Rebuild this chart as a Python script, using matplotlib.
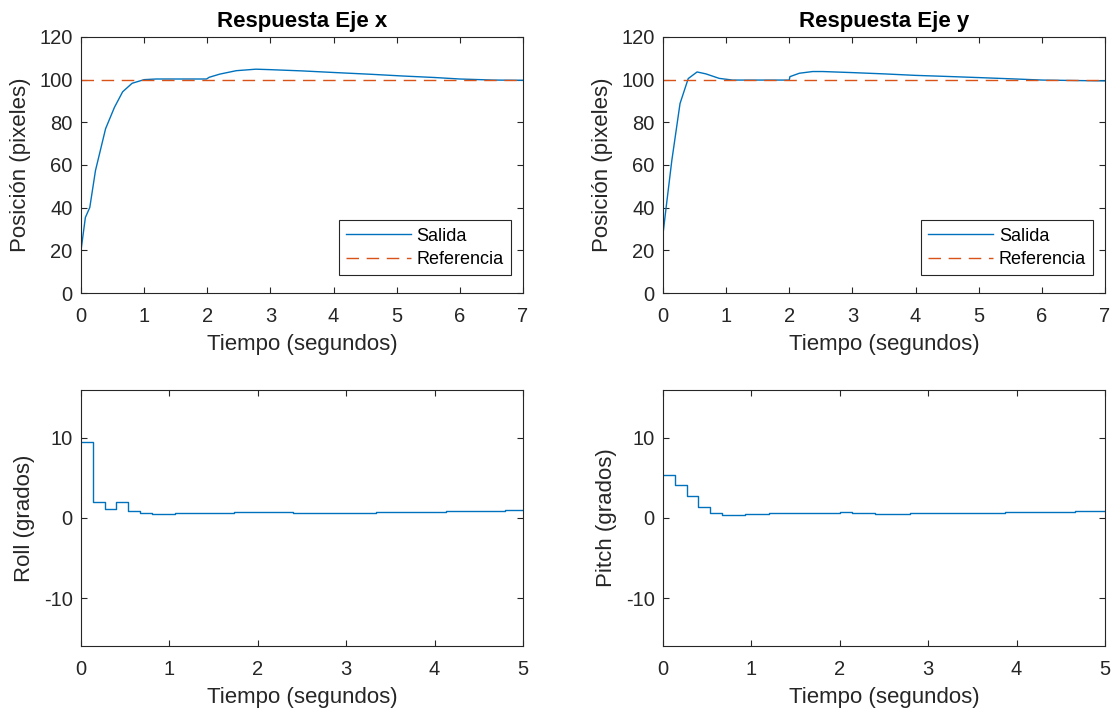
import numpy as np
import matplotlib.pyplot as plt

plt.rcParams['font.family'] = ['Liberation Sans', 'DejaVu Sans']
plt.rcParams['axes.unicode_minus'] = False

# posicion eje x (salida)
tx = [0, 0.07, 0.14, 0.23, 0.39, 0.53, 0.66, 0.81, 1.0, 1.19, 1.99, 2.03, 2.2, 2.46,
      2.77, 2.98, 3.5, 4.04, 4.6, 5.1, 5.6, 6.0, 6.53, 7.0]
px = [19.7, 35.4, 40.1, 57.4, 77.0, 87.0, 94.3, 98.3, 100.0, 100.3, 100.3, 101.1, 102.6, 104.2,
      104.9, 104.7, 104.1, 103.3, 102.5, 101.7, 101.0, 100.3, 99.8, 99.7]

# posicion eje y (salida)
ty = [0, 0.05, 0.14, 0.27, 0.40, 0.54, 0.68, 0.89, 1.10, 2.0, 2.01, 2.16, 2.37, 2.53,
      3.0, 3.5, 4.0, 4.5, 5.06, 5.5, 6.01, 6.5, 7.0]
py = [27.5, 40.1, 62.1, 88.8, 100.5, 103.6, 102.7, 100.6, 99.8, 99.8, 101.4, 103.0, 103.8, 103.8,
      103.3, 102.7, 102.0, 101.5, 100.9, 100.4, 99.8, 99.6, 99.4]

referencia = 100

# angulos de control, periodo de muestreo ~0.133 s
dt = 0.1333
roll = [9.55, 1.97, 1.09, 2.05, 0.92, 0.63, 0.55, 0.56, 0.58, 0.60, 0.62, 0.65, 0.67,
        0.70, 0.72, 0.75, 0.76, 0.72, 0.68, 0.66, 0.65, 0.65, 0.66, 0.67, 0.68, 0.70,
        0.72, 0.74, 0.76, 0.78, 0.80, 0.82, 0.85, 0.87, 0.90, 0.92, 0.95, 0.98]
pitch = [5.36, 4.14, 2.72, 1.34, 0.59, 0.38, 0.38, 0.45, 0.52, 0.57, 0.60, 0.62, 0.64,
         0.66, 0.68, 0.70, 0.68, 0.62, 0.56, 0.54, 0.55, 0.57, 0.58, 0.60, 0.62, 0.63,
         0.65, 0.67, 0.68, 0.70, 0.72, 0.74, 0.76, 0.78, 0.80, 0.82, 0.84, 0.86]

blue = '#0072BD'
orange = '#D95319'
gray = '#262626'


def style(ax):
    ax.tick_params(direction='in', top=True, right=True, colors=gray, labelsize=14.5,
                   length=4, width=0.8, labelcolor=gray)
    ax.tick_params(axis='x', pad=10)
    ax.tick_params(axis='y', pad=6)
    for s in ax.spines.values():
        s.set_color(gray)
        s.set_linewidth(0.8)


fig = plt.figure(figsize=(11.12, 7.11), dpi=100)
axes = [fig.add_axes([0.0728, 0.5879, 0.3975, 0.3601]),
        fig.add_axes([0.5962, 0.5879, 0.3975, 0.3601]),
        fig.add_axes([0.0728, 0.0914, 0.3975, 0.3601]),
        fig.add_axes([0.5962, 0.0914, 0.3975, 0.3601])]

for ax, t, p, title in [(axes[0], tx, px, 'Respuesta Eje x'), (axes[1], ty, py, 'Respuesta Eje y')]:
    ax.plot(t, p, color=blue, lw=1, label='Salida')
    ax.plot([0, 7], [referencia, referencia], color=orange, lw=1, dashes=(9, 5.5), label='Referencia')
    ax.set_xlim(0, 7)
    ax.set_ylim(0, 120)
    ax.set_yticks(range(0, 121, 20))
    ax.set_title(title, fontsize=16, fontweight='bold', pad=7)
    ax.set_xlabel('Tiempo (segundos)', fontsize=16, color=gray, labelpad=6)
    ax.set_ylabel('Posición (pixeles)', fontsize=16, color=gray, labelpad=6)
    leg = ax.legend(loc='lower right', bbox_to_anchor=(0.973, 0.07), borderaxespad=0,
                    fontsize=13, fancybox=False, framealpha=1, edgecolor=gray,
                    handlelength=3.6, handletextpad=0.3, borderpad=0.4, labelspacing=0.35)
    leg.get_frame().set_linewidth(0.8)
    style(ax)

for ax, ang, lab in [(axes[2], roll, 'Roll (grados)'), (axes[3], pitch, 'Pitch (grados)')]:
    ts = np.arange(len(ang)) * dt
    ax.step(np.append(ts, 5.0), np.append(ang, ang[-1]), where='post', color=blue, lw=1)
    ax.set_xlim(0, 5)
    ax.set_ylim(-16, 16)
    ax.set_yticks([-10, 0, 10])
    ax.set_xlabel('Tiempo (segundos)', fontsize=16, color=gray, labelpad=6)
    ax.set_ylabel(lab, fontsize=16, color=gray, labelpad=6)
    style(ax)

fig.savefig('out.png', dpi=100)
